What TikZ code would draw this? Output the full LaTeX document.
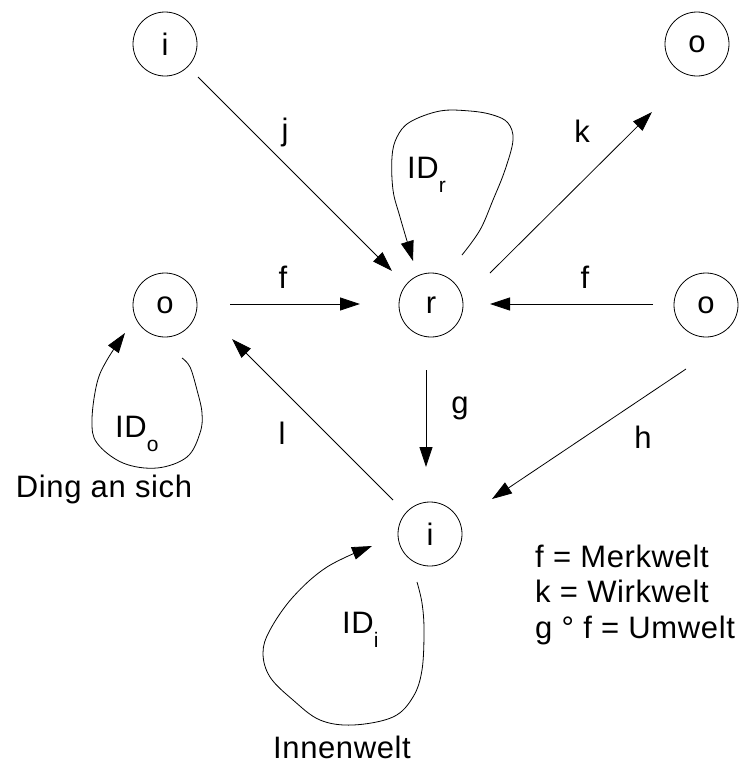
\documentclass[tikz,border=0pt]{standalone}
\usepackage{fontspec}
\setmainfont{Liberation Sans}[LetterSpace=2]
\usetikzlibrary{arrows.meta,calc}
\tikzset{
  state/.style={draw, circle, line width=0.8pt, minimum size=64pt, inner sep=0pt, outer sep=0pt},
  arr/.style={line width=0.8pt, -{Triangle[length=20pt,width=13pt]}},
  lbl/.style={inner sep=0pt},
  txt/.style={inner sep=0pt, anchor=base},
}
\newcommand{\bigfont}{\fontsize{31}{37}\selectfont}
\newcommand{\subtxt}[1]{\raisebox{-14pt}{\fontsize{21}{21}\selectfont #1}}
\begin{document}
\begin{tikzpicture}[x=1pt,y=-1pt,font=\bigfont]
\useasboundingbox (0,0) rectangle (742,769);
% nodes
\node[state] (nI)  at (165,44)  {i};
\node[state] (nOt) at (697,44)  {o};
\node[state] (nOl) at (165,305) {o};
\node[state] (nR)  at (431,305) {r};
\node[state] (nOr) at (706,305) {o};
\node[state] (nIb) at (430,534) {i};
% straight connectors
\draw[arr] ($(nI)+(33,33)$) -- ($(nR)+(-39,-34)$);
\draw[arr] ($(nR)+(59,-32)$) -- ($(nOt)+(-45,68)$);
\draw[arr] ($(nOl)+(65,-1)$) -- ($(nR)+(-71,-1)$);
\draw[arr] ($(nOr)+(-53,-1)$) -- ($(nR)+(59,-1)$);
\draw[arr] ($(nR)+(-5,65)$) -- ($(nIb)+(-4,-67)$);
\draw[arr] ($(nOr)+(-20,64)$) -- ($(nIb)+(62,-35)$);
\draw[arr] ($(nIb)+(-37,-34)$) -- ($(nOl)+(67,34)$);
% self loops
\draw[arr] plot[smooth, tension=0.6] coordinates {(462,255) (480,230) (493,200) (505,170) (513,140) (508,123) (493,115) (470,111) (440,111) (410,122) (397,137) (392,157) (393,190) (400,217) (413,261)};
\draw[arr] plot[smooth, tension=0.6] coordinates {(182,358) (190,367) (197,390) (202,413) (200,433) (187,457) (157,468) (123,463) (97,443) (92,420) (97,383) (107,360) (125,333)};
\draw[arr] plot[smooth, tension=0.6] coordinates {(417,582) (422,603) (424,630) (422,670) (413,697) (393,717) (353,725) (320,720) (293,700) (270,677) (263,653) (270,630) (293,597) (327,567) (372,546)};
% edge labels
\node[lbl] (lj) at (285,132) {j};
\node[lbl] (lk) at (582,131) {k};
\node[lbl] (lf1) at (283,277) {f};
\node[lbl] (lf2) at (585,277) {f};
\node[lbl] (lg) at (460,408) {g};
\node[lbl] (lh) at (643,437) {h};
\node[lbl] (ll) at (282,433) {l};
% loop labels
\node[inner sep=0pt, anchor=base west] (idr) at (407,178) {ID\subtxt{r}};
\node[inner sep=0pt, anchor=base west] (ido) at (115,437) {ID\subtxt{o}};
\node[inner sep=0pt, anchor=base west] (idi) at (342,633) {ID\subtxt{i}};
% texts
\node[txt] (ding) at (104,497) {Ding an sich};
\node[txt] (innen) at (342,758) {Innenwelt};
\node[inner sep=0pt, anchor=base west] (leg1) at (535,567) {f = Merkwelt};
\node[inner sep=0pt, anchor=base west] (leg2) at (535,602) {k = Wirkwelt};
\node[inner sep=0pt, anchor=base west] (leg3) at (535,638) {g ° f = Umwelt};
\end{tikzpicture}
\end{document}
